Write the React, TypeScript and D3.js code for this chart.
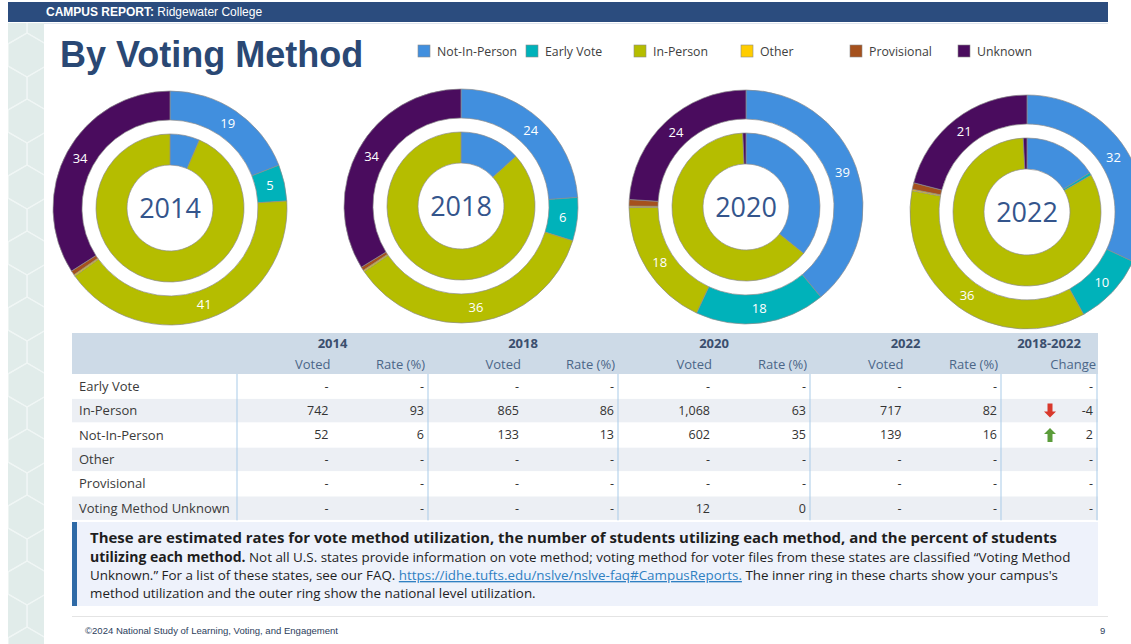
import React from "react";
import * as d3 from "d3";

// ---------- DATA ----------
const methodKeys = ["Not-In-Person", "Early Vote", "In-Person", "Other", "Provisional", "Unknown"];
const methodColors = ["#418fde", "#00b2ba", "#b5bd00", "#ffcd00", "#a5511d", "#4a0c5e"];

const years = ["2014", "2018", "2020", "2022"];
// outer ring: national level (percent), order = methodKeys
const national2014 = [19, 5, 41, 0.2, 0.6, 34];
const national2018 = [24, 6, 36, 0.2, 0.5, 34];
const national2020 = [39, 18, 18, 0.2, 0.9, 24];
const national2022 = [32, 10, 36, 0.2, 0.9, 21];
// inner ring: campus (percent), order = methodKeys
const campus2014 = [6.5, 0, 93.5, 0, 0, 0];
const campus2018 = [13.3, 0, 86.7, 0, 0, 0];
const campus2020 = [35.8, 0, 63.5, 0, 0, 0.7];
const campus2022 = [16, 0.6, 82, 0, 0, 0.8];

const tableRows = ["Early Vote", "In-Person", "Not-In-Person", "Other", "Provisional", "Voting Method Unknown"];
const voted2014 = [null, 742, 52, null, null, null];
const rate2014 = [null, 93, 6, null, null, null];
const voted2018 = [null, 865, 133, null, null, null];
const rate2018 = [null, 86, 13, null, null, null];
const voted2020 = [null, 1068, 602, null, null, 12];
const rate2020 = [null, 63, 35, null, null, 0];
const voted2022 = [null, 717, 139, null, null, null];
const rate2022 = [null, 82, 16, null, null, null];
const change1822 = [null, -4, 2, null, null, null];

const headerTitle = "CAMPUS REPORT:";
const collegeName = " Ridgewater College";
const pageTitle = "By Voting Method";
const footerText = "©2024 National Study of Learning, Voting, and Engagement";
const pageNumber = "9";

// ---------- LAYOUT ----------
const W = 1131;
const H = 644;
const donutCenters = [
  [170, 208],
  [461, 206],
  [746, 207],
  [1027, 212],
];
const R_OUT = 117;
const R_OUT_IN = 88;
const R_IN = 74;
const R_IN_IN = 43;

const legendX = [418, 526, 634, 741, 850, 958];
const legendY = 45;

const tableLeft = 72;
const tableRight = 1098;
const colLines = [237, 428, 618, 810, 1001, 1097];
const headTop = 333;
const headBottom = 374;
const rowH = 24.4;

const sans = "'Open Sans', 'Noto Sans', sans-serif";
const arial = "'Liberation Sans', Arial, sans-serif";

function Donut({ cx, cy, outer, inner, year }) {
  const pie = d3.pie<number>().sort(null).value((d) => d);
  const arcOut = d3.arc<any>().innerRadius(R_OUT_IN).outerRadius(R_OUT);
  const arcIn = d3.arc<any>().innerRadius(R_IN_IN).outerRadius(R_IN);
  const oArcs = pie(outer);
  const iArcs = pie(inner);
  return (
    <g transform={`translate(${cx},${cy})`}>
      {oArcs.map((a, i) =>
        a.value > 0 ? (
          <path key={"o" + i} d={arcOut(a) || ""} fill={methodColors[i]} stroke="#8c8c8c" strokeWidth={0.7} />
        ) : null
      )}
      {iArcs.map((a, i) =>
        a.value > 0 ? (
          <path key={"i" + i} d={arcIn(a) || ""} fill={methodColors[i]} stroke="#8c8c8c" strokeWidth={0.7} />
        ) : null
      )}
      {oArcs.map((a, i) => {
        if (a.value < 3) return null;
        const [x, y] = arcOut.centroid(a);
        return (
          <text key={"l" + i} x={x} y={y} dy="0.35em" textAnchor="middle" fill="#ffffff" fontFamily={sans} fontSize={13}>
            {Math.round(a.value)}
          </text>
        );
      })}
      <text x={0} y={0} dy="0.36em" textAnchor="middle" fill="#34558c" fontFamily={sans} fontSize={27}>
        {year}
      </text>
    </g>
  );
}

function fmt(v) {
  if (v === null || v === undefined) return "-";
  return d3.format(",")(v).replace("−", "-");
}

function Arrow({ x, y, up }) {
  const p = d3.path();
  if (up) {
    p.moveTo(x, y - 7);
    p.lineTo(x + 6, y - 1);
    p.lineTo(x + 2.5, y - 1);
    p.lineTo(x + 2.5, y + 7);
    p.lineTo(x - 2.5, y + 7);
    p.lineTo(x - 2.5, y - 1);
    p.lineTo(x - 6, y - 1);
    p.closePath();
  } else {
    p.moveTo(x, y + 7);
    p.lineTo(x + 6, y + 1);
    p.lineTo(x + 2.5, y + 1);
    p.lineTo(x + 2.5, y - 7);
    p.lineTo(x - 2.5, y - 7);
    p.lineTo(x - 2.5, y + 1);
    p.lineTo(x - 6, y + 1);
    p.closePath();
  }
  return <path d={p.toString()} fill={up ? "#5b9c3a" : "#d8382c"} />;
}

function HexStrip() {
  const hexes = [];
  const s = 22;
  const hw = (s * Math.sqrt(3)) / 2;
  for (let r = 0; r < 20; r++) {
    for (let c = -1; c < 2; c++) {
      const cx = 8 + c * hw * 2 + (r % 2 ? hw : 0);
      const cy = 22 + r * s * 1.5;
      const pts = d3.range(6).map((k) => {
        const ang = (Math.PI / 3) * k + Math.PI / 2;
        return [cx + s * Math.cos(ang), cy + s * Math.sin(ang)];
      });
      hexes.push(
        <polygon key={r + "_" + c} points={pts.map((p) => p.join(",")).join(" ")} fill="none" stroke="#f0f6f5" strokeWidth={1.1} />
      );
    }
  }
  return (
    <g>
      <clipPath id="stripclip">
        <rect x={8} y={23} width={36} height={H - 23} />
      </clipPath>
      <rect x={8} y={23} width={36} height={H - 23} fill="#e1ecea" />
      <g clipPath="url(#stripclip)">{hexes}</g>
    </g>
  );
}

export default function App() {
  const outerSets = [national2014, national2018, national2020, national2022];
  const innerSets = [campus2014, campus2018, campus2020, campus2022];
  const votedSets = [voted2014, voted2018, voted2020, voted2022];
  const rateSets = [rate2014, rate2018, rate2020, rate2022];

  const rowY = d3.scaleLinear().domain([0, 1]).range([headBottom, headBottom + rowH]);

  return (
    <svg width={W} height={H} style={{ position: "absolute", left: 0, top: 0 }} xmlns="http://www.w3.org/2000/svg">
      <rect x={0} y={0} width={W} height={H} fill="#ffffff" />
      <HexStrip />
      {/* header bar */}
      <rect x={8} y={2} width={1100} height={20} fill="#2b4c7e" />
      <line x1={44} x2={1108} y1={23.5} y2={23.5} stroke="#dfe6ee" strokeWidth={1} />
      <text x={46} y={16} fill="#ffffff" fontFamily={arial} fontSize={12}>
        <tspan fontWeight="bold">{headerTitle}</tspan>
        <tspan>{collegeName}</tspan>
      </text>

      {/* title */}
      <text x={60} y={67} fill="#2a4874" fontFamily={arial} fontWeight="bold" fontSize={36}>
        {pageTitle}
      </text>

      {/* legend */}
      {methodKeys.map((k, i) => (
        <g key={k}>
          <rect x={legendX[i]} y={legendY} width={12} height={12} fill={methodColors[i]} stroke="#8a8a8a" strokeWidth={0.6} />
          <text x={legendX[i] + 19} y={legendY + 7} dy="0.35em" fill="#404040" fontFamily={sans} fontSize={12.3}>
            {k}
          </text>
        </g>
      ))}

      {/* donuts */}
      {years.map((y, i) => (
        <Donut key={y} cx={donutCenters[i][0]} cy={donutCenters[i][1]} outer={outerSets[i]} inner={innerSets[i]} year={y} />
      ))}

      {/* table */}
      <rect x={tableLeft} y={headTop} width={tableRight - tableLeft} height={headBottom - headTop} fill="#cddae7" />
      {tableRows.map((r, i) => (
        <rect key={r} x={tableLeft} y={rowY(i) + 0.5} width={tableRight - tableLeft} height={rowH - 1} fill={i % 2 === 1 ? "#eceff4" : "#ffffff"} />
      ))}
      {colLines.map((x) => (
        <line key={x} x1={x} x2={x} y1={headBottom} y2={rowY(6)} stroke="#a9cbe8" strokeWidth={1} />
      ))}
      {years.map((y, i) => (
        <g key={"h" + y}>
          <text x={(colLines[i] + colLines[i + 1]) / 2} y={348} textAnchor="middle" fill="#3b4f6e" fontFamily={sans} fontWeight="bold" fontSize={13}>
            {y}
          </text>
          <text x={(colLines[i] + colLines[i + 1]) / 2 - 2} y={369} textAnchor="end" fill="#4b6687" fontFamily={sans} fontSize={13}>
            Voted
          </text>
          <text x={colLines[i + 1] - 3} y={369} textAnchor="end" fill="#4b6687" fontFamily={sans} fontSize={13}>
            Rate (%)
          </text>
        </g>
      ))}
      <text x={(colLines[4] + colLines[5]) / 2} y={348} textAnchor="middle" fill="#3b4f6e" fontFamily={sans} fontWeight="bold" fontSize={13}>
        2018-2022
      </text>
      <text x={colLines[5] - 1} y={369} textAnchor="end" fill="#4b6687" fontFamily={sans} fontSize={13}>
        Change
      </text>
      {tableRows.map((r, i) => {
        const cy = rowY(i) + rowH / 2;
        return (
          <g key={"row" + r}>
            <text x={79} y={cy} dy="0.35em" fill="#3a3a3a" fontFamily={sans} fontSize={13}>
              {r}
            </text>
            {years.map((y, j) => (
              <g key={y}>
                <text x={(colLines[j] + colLines[j + 1]) / 2 - 4} y={cy} dy="0.35em" textAnchor="end" fill="#333" fontFamily={sans} fontSize={12.5}>
                  {fmt(votedSets[j][i])}
                </text>
                <text x={colLines[j + 1] - 4} y={cy} dy="0.35em" textAnchor="end" fill="#333" fontFamily={sans} fontSize={12.5}>
                  {fmt(rateSets[j][i])}
                </text>
              </g>
            ))}
            <text x={colLines[5] - 4} y={cy} dy="0.35em" textAnchor="end" fill="#333" fontFamily={sans} fontSize={12.5}>
              {fmt(change1822[i])}
            </text>
            {change1822[i] !== null && change1822[i] !== 0 ? (
              <Arrow x={1050} y={cy} up={(change1822[i] as number) > 0} />
            ) : null}
          </g>
        );
      })}

      {/* footnote */}
      <rect x={72} y={522} width={1026} height={84} fill="#eef2fb" />
      <rect x={72} y={522} width={5} height={84} fill="#2f6aa6" />
      <g fontFamily={sans} fill="#1e1e1e">
        <text x={90} y={543} fontSize={14} fontWeight="bold" textLength={967} lengthAdjust="spacingAndGlyphs">
          These are estimated rates for vote method utilization, the number of students utilizing each method, and the percent of students
        </text>
        <text x={90} y={562} fontSize={13.4}>
          <tspan fontWeight="bold" fontSize={14}>utilizing each method.</tspan>
          <tspan> Not all U.S. states provide information on vote method; voting method for voter files from these states are classified “Voting Method</tspan>
        </text>
        <text x={90} y={580} fontSize={13.4}>
          <tspan>Unknown.” For a list of these states, see our FAQ.  </tspan>
          <tspan fill="#2f80c2" textDecoration="underline">https://idhe.tufts.edu/nslve/nslve-faq#CampusReports.</tspan>
          <tspan>  The inner ring in these charts show your campus's</tspan>
        </text>
        <text x={90} y={598} fontSize={13.4}>
          method utilization and the outer ring show the national level utilization.
        </text>
      </g>

      {/* footer */}
      <line x1={72} x2={1108} y1={616.5} y2={616.5} stroke="#e4e4e4" strokeWidth={1} />
      <text x={85} y={634} fill="#2c3e5c" fontFamily={arial} fontSize={9.5} textLength={253} lengthAdjust="spacingAndGlyphs">
        {footerText}
      </text>
      <text x={1100} y={634} fill="#2c3e5c" fontFamily={arial} fontSize={9.5}>
        {pageNumber}
      </text>
    </svg>
  );
}
